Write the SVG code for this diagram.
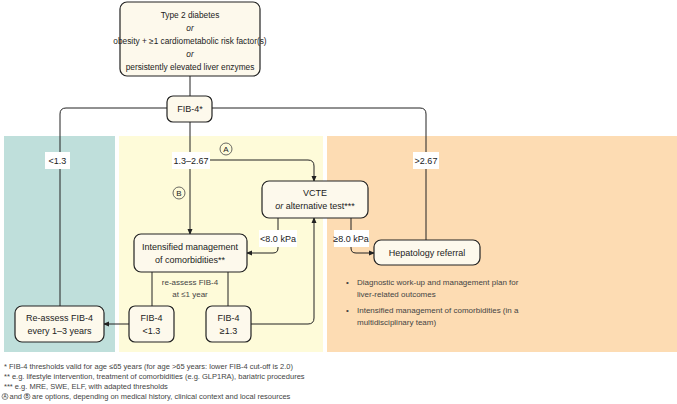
<svg xmlns="http://www.w3.org/2000/svg" width="677" height="404" viewBox="0 0 677 404">
<style>
text{font-family:"Liberation Sans",Arial,sans-serif;fill:#222;font-size:9px}
.n{fill:#fdf9ec;stroke:#222;stroke-width:1.2}
.l{fill:none;stroke:#222;stroke-width:1}
.lab{fill:#fff}
.c{text-anchor:middle}
.f{font-size:7.5px;fill:#444}
.b{font-size:8px;fill:#444}
</style>
<defs><marker id="a" markerWidth="6" markerHeight="6" refX="5" refY="3" orient="auto"><path d="M0,0.5L6,3L0,5.5z" fill="#222"/></marker></defs>
<rect x="4" y="136" width="111" height="216" fill="#bfdfdb"/>
<rect x="119" y="136" width="204" height="216" fill="#fefbd9"/>
<rect x="327" y="136" width="350" height="216" fill="#fddcb3"/>
<g id="connectors">
<path class="l" d="M190,76V96"/>
<path class="l" d="M167,108H66Q60,108 60,114V306"/>
<path class="l" d="M212,108H420Q426,108 426,114V240"/>
<path class="l" d="M190,122V234" marker-end="url(#a)"/>
<path class="l" d="M210,160H308Q314,160 314,166V181" marker-end="url(#a)"/>
<path class="l" d="M278,218V248Q278,253 273,253H247" marker-end="url(#a)"/>
<path class="l" d="M351,218V248Q351,253 356,253H374" marker-end="url(#a)"/>
<path class="l" d="M251,324H308Q314,324 314,318V218" marker-end="url(#a)"/>
<path class="l" d="M152,272V306M228,272V306"/>
<path class="l" d="M129,324H104" marker-end="url(#a)"/>
</g>
<rect class="lab" x="45" y="152" width="25" height="17"/><text class="c" x="57.5" y="164">&lt;1.3</text>
<rect class="lab" x="172" y="152" width="38" height="17"/><text class="c" x="191" y="164">1.3–2.67</text>
<rect class="lab" x="413" y="152" width="26" height="17"/><text class="c" x="426" y="164">&gt;2.67</text>
<rect class="lab" x="259" y="230" width="38" height="17"/><text class="c" x="278" y="242">&lt;8.0 kPa</text>
<rect class="lab" x="334" y="230" width="35" height="17"/><text class="c" x="351" y="242">≥8.0 kPa</text>
<circle cx="226" cy="149" r="6" fill="none" stroke="#444" stroke-width="0.8"/><text class="c" x="226" y="152" style="font-size:8px">A</text>
<circle cx="179" cy="193" r="6" fill="none" stroke="#444" stroke-width="0.8"/><text class="c" x="179" y="196" style="font-size:8px">B</text>
<g id="top"><rect class="n" x="120" y="2" width="140" height="74" rx="7"/>
<text class="c" x="190" y="18" style="font-size:8.3px">Type 2 diabetes</text>
<text class="c" x="190" y="31" style="font-size:8.3px" font-style="italic">or</text>
<text class="c" x="190" y="44" style="font-size:8.3px">obesity + ≥1 cardiometabolic risk factor(s)</text>
<text class="c" x="190" y="57" style="font-size:8.3px" font-style="italic">or</text>
<text class="c" x="190" y="70" style="font-size:8.3px">persistently elevated liver enzymes</text></g>
<g id="fib4"><rect class="n" x="167" y="96" width="45" height="26" rx="6"/><text class="c" x="190" y="112">FIB-4*</text></g>
<g id="vcte"><rect class="n" x="262" y="181" width="106" height="37" rx="7"/><text class="c" x="315" y="196">VCTE</text><text class="c" x="315" y="209"><tspan font-style="italic">or</tspan> alternative test***</text></g>
<g id="intens"><rect class="n" x="134" y="234" width="113" height="38" rx="7"/><text class="c" x="190" y="250">Intensified management</text><text class="c" x="190" y="263">of comorbidities**</text></g>
<g id="hep"><rect class="n" x="374" y="240" width="106" height="25" rx="7"/><text class="c" x="427" y="256">Hepatology referral</text></g>
<text class="c b" x="190" y="285">re-assess FIB-4</text><text class="c b" x="190" y="297">at ≤1 year</text>
<g id="f1"><rect class="n" x="129" y="306" width="45" height="36" rx="6"/><text class="c" x="151.5" y="321">FIB-4</text><text class="c" x="151.5" y="334">&lt;1.3</text></g>
<g id="f2"><rect class="n" x="206" y="306" width="45" height="36" rx="6"/><text class="c" x="228.5" y="321">FIB-4</text><text class="c" x="228.5" y="334">≥1.3</text></g>
<g id="re"><rect class="n" x="15" y="306" width="89" height="36" rx="7"/><text class="c" x="59.5" y="321">Re-assess FIB-4</text><text class="c" x="59.5" y="334">every 1–3 years</text></g>
<text class="b" x="346" y="285">•</text><text class="b" x="357" y="285">Diagnostic work-up and management plan for</text><text class="b" x="357" y="297">liver-related outcomes</text>
<text class="b" x="346" y="313">•</text><text class="b" x="357" y="313">Intensified management of comorbidities (in a</text><text class="b" x="357" y="325">multidisciplinary team)</text>
<text class="f" x="4" y="369">* FIB-4 thresholds valid for age ≤65 years (for age &gt;65 years: lower FIB-4 cut-off is 2.0)</text>
<text class="f" x="4" y="379">** e.g. lifestyle intervention, treatment of comorbidities (e.g. GLP1RA), bariatric procedures</text>
<text class="f" x="4" y="389">*** e.g. MRE, SWE, ELF, with adapted thresholds</text>
<circle cx="5" cy="396.5" r="3" fill="none" stroke="#444" stroke-width="0.6"/><text x="5" y="398.2" class="c" style="font-size:4.5px">A</text>
<text class="f" x="9.5" y="399">and</text>
<circle cx="27" cy="396.5" r="3" fill="none" stroke="#444" stroke-width="0.6"/><text x="27" y="398.2" class="c" style="font-size:4.5px">B</text>
<text class="f" x="32" y="399">are options, depending on medical history, clinical context and local resources</text>
</svg>
